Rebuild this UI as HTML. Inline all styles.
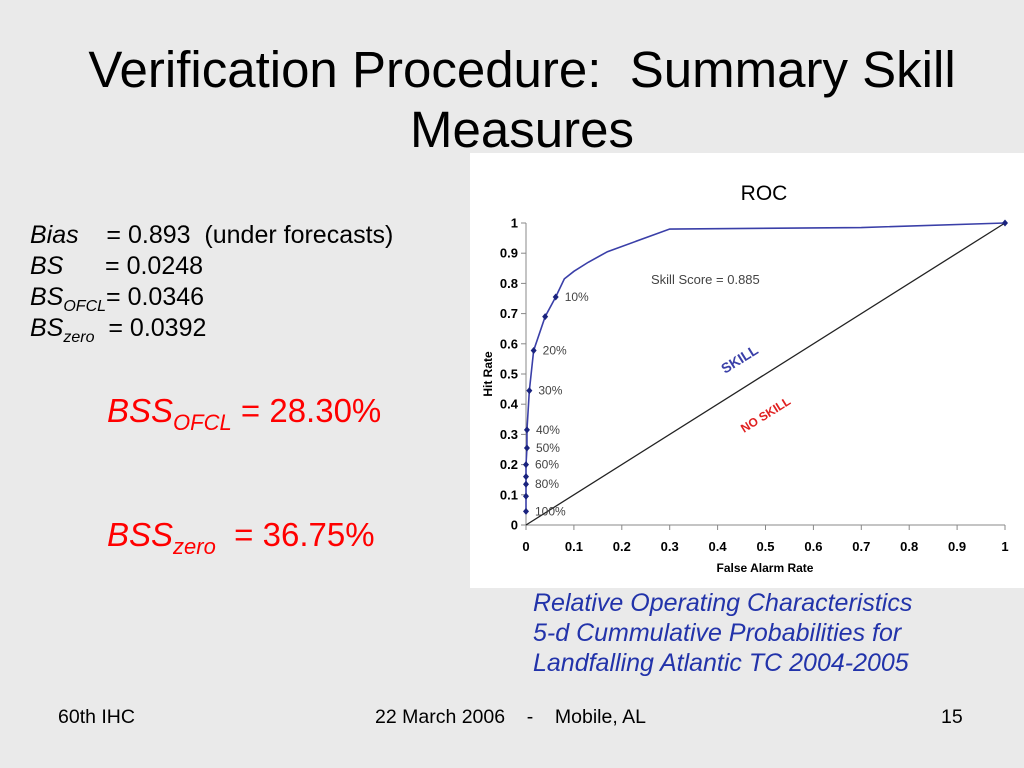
<!DOCTYPE html>
<html><head><meta charset="utf-8"><style>
body{margin:0;width:1024px;height:768px;background:#eaeaea;font-family:"Liberation Sans",sans-serif;position:relative;overflow:hidden}
.a{position:absolute;white-space:nowrap}
sub{vertical-align:baseline;position:relative;top:0.35em;line-height:0}
</style></head><body>
<div class="a" style="left:0;width:1044px;top:40px;text-align:center;font-size:51px;line-height:60px;color:#000">Verification Procedure:&nbsp; Summary Skill<br>Measures</div>
<div class="a" style="left:30px;top:220px;font-size:25px;line-height:31px">
<i>Bias</i> &nbsp;&nbsp; = 0.893&nbsp; (under forecasts)<br><i>BS</i> &nbsp;&nbsp;&nbsp;&nbsp; = 0.0248<br><i>BS<sub style="font-size:16px">OFCL</sub></i>= 0.0346<br><i>BS<sub style="font-size:16px">zero</sub></i> &nbsp;= 0.0392</div>
<div class="a" style="left:107px;top:392px;font-size:33px;color:#f00"><i>BSS<sub style="font-size:22px">OFCL</sub></i> = 28.30%</div>
<div class="a" style="left:107px;top:516px;font-size:33px;color:#f00"><i>BSS<sub style="font-size:22px">zero</sub></i> &nbsp;= 36.75%</div>
<div class="a" style="left:533px;top:588px;font-size:25px;line-height:30px;color:#2233aa;font-style:italic">Relative Operating Characteristics<br>5-d Cummulative Probabilities for<br>Landfalling Atlantic TC 2004-2005</div>
<div class="a" style="left:58px;top:706px;font-size:19.5px">60th IHC</div>
<div class="a" style="left:375px;top:706px;font-size:19.5px">22 March 2006 &nbsp;&nbsp; - &nbsp;&nbsp; Mobile, AL</div>
<div class="a" style="left:941px;top:706px;font-size:19.5px">15</div>
<svg class="a" style="left:0;top:0" width="1024" height="768">
<rect x="470" y="153" width="554" height="435" fill="#fff"/>
<text x="764" y="200" font-size="21" text-anchor="middle" font-family="Liberation Sans">ROC</text>
<g id="g"></g>
</svg>
<script>
const xTicks=[0,0.1,0.2,0.3,0.4,0.5,0.6,0.7,0.8,0.9,1];
const yTicks=[0,0.1,0.2,0.3,0.4,0.5,0.6,0.7,0.8,0.9,1];
const far=[0,0,0,0,0,0.002,0.002,0.007,0.016,0.04,0.062,0.08,0.1,0.13,0.17,0.3,0.7,1];
const hit=[0.045,0.095,0.135,0.16,0.2,0.255,0.315,0.445,0.578,0.69,0.755,0.815,0.84,0.87,0.905,0.98,0.985,1];
const thrLabels=["100%","","80%","","60%","50%","40%","30%","20%","","10%"];
const X=v=>526+v*479, Y=v=>525-v*302;
const g=document.getElementById('g'), NS='http://www.w3.org/2000/svg';
function mk(t,a,txt){const e=document.createElementNS(NS,t);for(const k in a)e.setAttribute(k,a[k]);if(txt!=null)e.textContent=txt;g.appendChild(e);return e;}
let e=mk('line',{x1:X(0),y1:Y(0),x2:X(1),y2:Y(0),stroke:'#888'});

e=mk('line',{x1:X(0),y1:Y(0),x2:X(0),y2:Y(1),stroke:'#888'});

xTicks.forEach(v=>{mk('line',{x1:X(v),y1:Y(0),x2:X(v),y2:Y(0)+5,stroke:'#888'});
e=mk('text',{x:X(v),y:551,'font-size':13,'font-weight':'bold','text-anchor':'middle','font-family':'Liberation Sans'},String(v));
});
yTicks.forEach(v=>{mk('line',{x1:X(0)-5,y1:Y(v),x2:X(0),y2:Y(v),stroke:'#888'});
e=mk('text',{x:518,y:Y(v)+4.5,'font-size':13,'font-weight':'bold','text-anchor':'end','font-family':'Liberation Sans'},String(v));
});
e=mk('text',{x:765,y:572,'font-size':12,'font-weight':'bold','text-anchor':'middle','font-family':'Liberation Sans'},'False Alarm Rate');

e=mk('text',{x:492,y:374,'font-size':12,'font-weight':'bold','text-anchor':'middle','font-family':'Liberation Sans',transform:'rotate(-90 492 374)'},'Hit Rate');

e=mk('line',{x1:X(0),y1:Y(0),x2:X(1),y2:Y(1),stroke:'#222','stroke-width':1.3});

e=mk('polyline',{points:far.map((f,i)=>X(f)+','+Y(hit[i])).join(' '),fill:'none',stroke:'#3a3fa8','stroke-width':1.6});

far.forEach((f,i)=>{if(i>10&&i<17)return;e=mk('path',{d:`M${X(f)} ${Y(hit[i])-3.5}l3 3.5l-3 3.5l-3 -3.5z`,fill:'#1a237e'});

if(thrLabels[i]){e=mk('text',{x:X(f)+9,y:Y(hit[i])+4,'font-size':12,fill:'#444','font-family':'Liberation Sans'},thrLabels[i]);
}});
e=mk('text',{x:651,y:284,'font-size':13,fill:'#444','font-family':'Liberation Sans'},'Skill Score = 0.885');

e=mk('text',{x:725,y:374,'font-size':14,'font-weight':'bold',fill:'#3a3fa8','font-family':'Liberation Sans',transform:'rotate(-32 725 374)'},'SKILL');

e=mk('text',{x:744,y:433,'font-size':12,'font-weight':'bold',fill:'#e02020','font-family':'Liberation Sans',transform:'rotate(-32 744 433)'},'NO SKILL');

</script>
</body></html>
